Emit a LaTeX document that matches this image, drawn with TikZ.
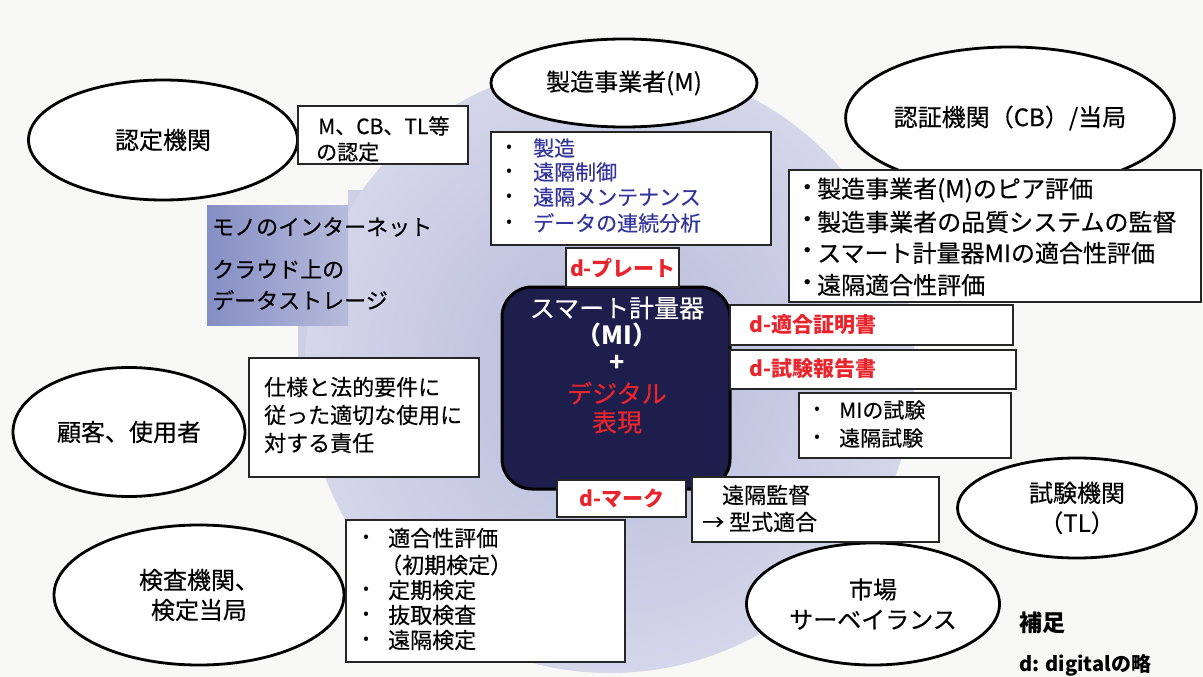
\documentclass[tikz,border=0pt]{standalone}
\usepackage{fontspec}
\setmainfont{Noto Sans CJK JP}[UprightFeatures={FakeBold=0.35}]
\usetikzlibrary{shapes.geometric}
\definecolor{navy}{HTML}{1E1E4C}
\definecolor{redt}{HTML}{E8242C}
\definecolor{bluet}{HTML}{33359A}
\definecolor{bgc}{HTML}{F8F8F6}
\definecolor{lavin}{HTML}{B6BAD9}
\definecolor{lavout}{HTML}{D4D6EA}
\definecolor{lavrect}{HTML}{CDD0E6}
\definecolor{bluel}{HTML}{858EC4}
\definecolor{bluer}{HTML}{B7BBDB}
\newcommand\fsz[2]{\fontsize{#1}{#2}\selectfont}
\begin{document}
\begin{tikzpicture}[x=1pt,y=-1pt,
  ell/.style={draw, line width=2.8pt, ellipse, fill=white, inner sep=0pt, align=center, font=\fsz{24}{30}},
  box/.style={draw=black!85, line width=1.3pt, fill=white},
  txt/.style={anchor=west, inner sep=0pt, font=\fsz{22}{26}},
  btxt/.style={anchor=west, inner sep=0pt, font=\fsz{21}{25}, text=bluet},
  cbtxt/.style={anchor=west, inner sep=0pt, font=\fsz{24}{28}},
  rtxt/.style={inner sep=0pt, font=\fsz{21}{25}\bfseries, text=redt},
  dot/.style={inner sep=0pt, font=\fsz{16}{20}},
  ctr/.style={inner sep=0pt, font=\fsz{25}{30}}
]
\useasboundingbox (0,0) rectangle (1203,677);
\fill[bgc] (0,0) rectangle (1203,677);
% background shapes
\fill[lavrect] (348,190) -- (470,190) -- (470,360) -- (298,360) -- (298,325) -- (348,325) -- cycle;
\shade[inner color=lavin, outer color=lavout] (610,368) circle[radius=305pt];
\shade[left color=bluel, right color=bluer] (207,205) rectangle (348,325);

% ellipses
\node[ell, minimum width=269pt, minimum height=120pt] (nintei) at (163,140) {認定機関};
\node[ell, minimum width=266pt, minimum height=88pt] (seizo) at (624,83) {製造事業者(M)};
\node[ell, minimum width=266pt, minimum height=142pt] (ninsho) at (1010,118) {認証機関（CB）/当局};
\node[ell, minimum width=232pt, minimum height=129pt] (kokyaku) at (129,432) {顧客、使用者};
\node[ell, minimum width=290pt, minimum height=140pt] (kensa) at (199,595) {検査機関、\\検定当局};
\node[ell, minimum width=239pt, minimum height=100pt] (shiken) at (1077,508) {試験機関\\（TL）};
\node[ell, minimum width=253pt, minimum height=122pt] (shijo) at (873,604) {市場\\サーベイランス};

% left text
\node[txt] (iot) at (212,227) {モノのインターネット};
\node[txt] (cloud1) at (212,269) {クラウド上の};
\node[txt] (cloud2) at (212,300) {データストレージ};

% box: accreditation
\draw[box] (298,106) rectangle (468,164);
\node[txt, font=\fsz{21}{25}] (na1) at (318,126) {M、CB、TL等};
\node[txt, font=\fsz{21}{25}] (na2) at (316,152) {の認定};

% box: manufacturer list
\draw[box] (491,132) rectangle (771,245);
\foreach \yy/\tt [count=\i] in {148/製造,172/遠隔制御,197/遠隔メンテナンス,223/データの連続分析}{
  \node[dot] (sb\i) at (509,\yy) {•};
  \node[btxt] (st\i) at (533,\yy) {\tt};
}

% central
\draw[line width=3pt, fill=navy, rounded corners=30pt] (502,287) rectangle (730,489);
\node[ctr, text=white] (c1) at (617,308) {スマート計量器};
\node[ctr, text=white, font=\fsz{25}{30}\bfseries] (c2) at (617,335) {（MI）};
\node[ctr, text=white, font=\fsz{25}{30}\bfseries] (c3) at (617,363) {+};
\node[ctr, text=redt] (c4) at (617,393) {デジタル};
\node[ctr, text=redt] (c5) at (617,422) {表現};

% d-plate
\draw[box] (566,248) rectangle (679,287);
\node[rtxt] (plate) at (623,268) {d-プレート};

% CB list
\draw[box] (789,170) rectangle (1201,302);
\foreach \yy/\tt [count=\i] in {190/製造事業者(M)のピア評価,222/製造事業者の品質システムの監督,253/スマート計量器MIの適合性評価,285/遠隔適合性評価}{
  \node[cbtxt] (cbb\i) at (795,\yy) {・};
  \node[cbtxt] (cbt\i) at (817,\yy) {\tt};
}

% d- certificate boxes
\draw[box] (730,305) rectangle (1013,345);
\node[rtxt, anchor=west] (cert) at (749,325) {d-適合証明書};
\draw[box] (730,350) rectangle (1016,389);
\node[rtxt, anchor=west] (report) at (749,369) {d-試験報告書};

% MI test box
\draw[box] (799,393) rectangle (1011,458);
\node[dot] (mb1) at (817,410) {•};
\node[btxt, text=black] (mt1) at (839,410) {MIの試験};
\node[dot] (mb2) at (817,438) {•};
\node[btxt, text=black] (mt2) at (839,438) {遠隔試験};

% remote supervision box
\draw[box] (692,477) rectangle (939,542);
\node[txt] (rs1) at (722,495) {遠隔監督};
\node[txt] (rs2) at (702,522) {→ 型式適合};

% d-mark
\draw[box] (557,480) rectangle (686,517);
\node[rtxt] (mark) at (622,498) {d-マーク};

% user box
\draw[box] (249,358) rectangle (479,477);
\node[txt] (u1) at (264,387) {仕様と法的要件に};
\node[txt] (u2) at (264,415) {従った適切な使用に};
\node[txt] (u3) at (264,443) {対する責任};

% inspection list
\draw[box] (346,520) rectangle (625,662);
\node[dot] (kb1) at (366,538) {•};
\node[txt] (kt1) at (388,538) {適合性評価};
\node[txt] (kt1b) at (380,565) {（初期検定）};
\node[dot] (kb2) at (366,590) {•};
\node[txt] (kt2) at (388,590) {定期検定};
\node[dot] (kb3) at (366,615) {•};
\node[txt] (kt3) at (388,615) {抜取検査};
\node[dot] (kb4) at (366,640) {•};
\node[txt] (kt4) at (388,640) {遠隔検定};

% note
\node[txt, font=\fsz{23}{27}\bfseries] (hosoku) at (1019,623) {補足};
\node[txt, font=\fsz{20}{24}\bfseries] (dnote) at (1019,665) {d: digitalの略};
\end{tikzpicture}
\end{document}
